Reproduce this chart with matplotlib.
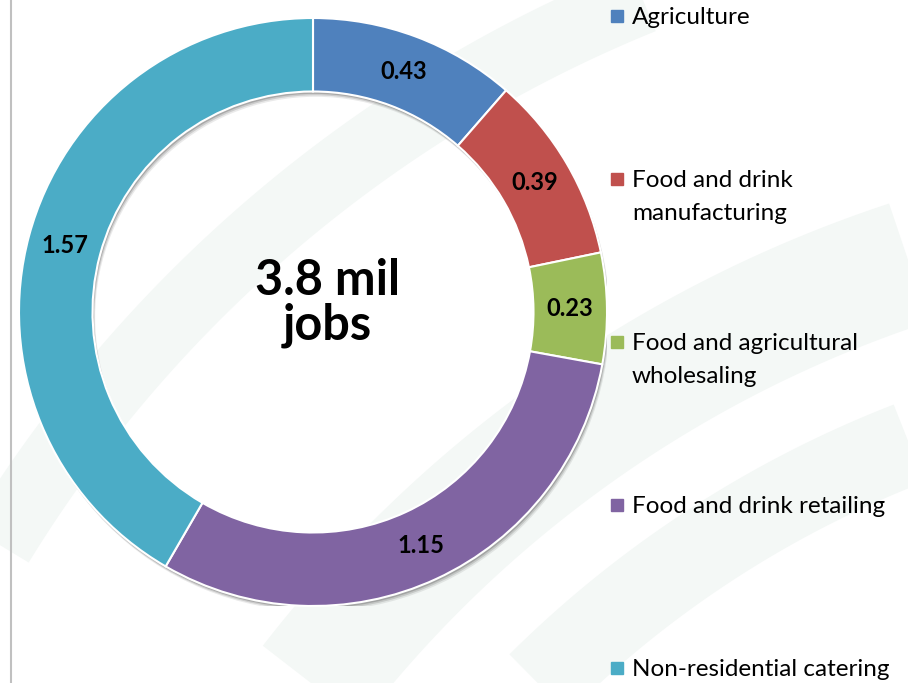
import matplotlib.pyplot as plt
from matplotlib.patches import Wedge, Rectangle
import numpy as np

# data (million jobs)
categories = ['Agriculture', 'Food and drink\nmanufacturing', 'Food and agricultural\nwholesaling',
              'Food and drink retailing', 'Non-residential catering']
values = [0.43, 0.39, 0.23, 1.15, 1.57]
value_labels = ['0.43', '0.39', '0.23', '1.15', '1.57']
colors = ['#4F81BD', '#C0504D', '#9BBB59', '#8064A2', '#4BACC6']
centre_text = '3.8 mil\njobs'

plt.rcParams['font.family'] = ['Lato', 'DejaVu Sans']

fig = plt.figure(figsize=(9.08, 6.83), dpi=100)
fig.patch.set_facecolor('white')

# faint background swooshes
bg = fig.add_axes([0, 0, 1, 1])
bg.set_xlim(0, 908)
bg.set_ylim(683, 0)
bg.axis('off')
for cx, cy, r, w in [(1300, 1450, 1250, 90), (1300, 1450, 1080, 60), (1150, 1250, 1350, 50)]:
    t = np.linspace(np.pi * 0.95, np.pi * 1.6, 200)
    bg.plot(cx + r * np.cos(t), cy + r * np.sin(t), color='#f4f8f6', lw=w, solid_capstyle='butt', zorder=0)
bg.plot([11, 11], [0, 683], color='#c0c0c0', lw=1.5)

# donut
ax = fig.add_axes([19 / 908, 77 / 683, 588 / 908, 588 / 683])
ax.set_aspect('equal')
ax.axis('off')

width = 0.25
# soft shadow
for k, a in [(0.018, 0.12), (0.013, 0.2), (0.008, 0.3)]:
    ax.add_patch(Wedge((k * 0.5, -k), 1.0, 0, 360, width=width, color='#555555', alpha=a, lw=0, zorder=1))

wedges, texts = ax.pie(values, colors=colors, startangle=90, counterclock=False, radius=1.0,
                       wedgeprops=dict(width=width, edgecolor='white', linewidth=1.5))
for w in wedges:
    w.set_zorder(2)
ax.set_xlim(-1, 1)
ax.set_ylim(-1, 1)

total = sum(values)
cum = 0
for v, lab in zip(values, value_labels):
    mid = 90 - (cum + v / 2) / total * 360
    cum += v
    r = 1 - width / 2
    ax.text(r * np.cos(np.radians(mid)), r * np.sin(np.radians(mid)), lab,
            ha='center', va='center', fontsize=17, fontweight='bold', color='black', zorder=3)

ax.text(0.05, 0.03, centre_text, ha='center', va='center', fontsize=35, fontweight='bold',
        linespacing=1.0, zorder=3)

# legend
base0 = 24
step = 163
line_h = 33
for i, (cat, c) in enumerate(zip(categories, colors)):
    b = base0 + i * step
    bg.add_patch(Rectangle((611, b - 14), 12, 12, color=c))
    for j, line in enumerate(cat.split('\n')):
        bg.text(632, b + j * line_h, line, ha='left', va='baseline', fontsize=17.5, color='black')

fig.savefig('out.png', dpi=100)
